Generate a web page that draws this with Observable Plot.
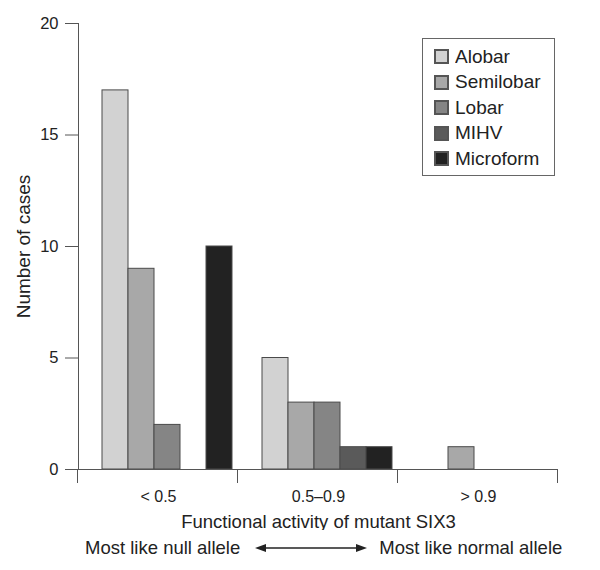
<!DOCTYPE html>
<html>
<head>
<meta charset="utf-8">
<script src="https://cdn.jsdelivr.net/npm/d3@7"></script>
<script src="https://cdn.jsdelivr.net/npm/@observablehq/plot@0.6"></script>
<style>
  body { margin: 0; background: #fff; font-family: "Liberation Sans", Arial, sans-serif; }
  #wrap { position: relative; width: 600px; height: 570px; }
  #legend { position: absolute; left: 422px; top: 38px; width: 133px; height: 138px;
            border: 1px solid #666; background: #fff; box-sizing: border-box; padding: 5px 0 0 12px; }
  #legend div { font-size: 19px !important; color: #222; font-family: "Liberation Sans", Arial, sans-serif !important; }
  #legend [class$="-swatch"] { height: 25.5px !important; padding: 0 !important; margin: 0 !important;
                               box-sizing: border-box; display: flex; align-items: center; }
  #legend svg { margin-right: 7px !important; }
  #legend svg rect { stroke: #555; stroke-width: 2px; }
  #caption { position: absolute; left: 0; top: 537px; width: 600px; font-size: 18.5px; color: #222;
             display: flex; align-items: center; }
</style>
</head>
<body>
<div id="wrap">
  <div id="chart"></div>
  <div id="legend"></div>
  <div id="caption"></div>
</div>
<script>
// ---- data ----
const groups = ["< 0.5", "0.5–0.9", "> 0.9"];
const series = ["Alobar", "Semilobar", "Lobar", "MIHV", "Microform"];
const seriesColors = ["#d2d2d2", "#a8a8a8", "#858585", "#5a5a5a", "#222222"];
const valuesBelow05 = [17, 9, 2, 0, 10];
const values05to09 = [5, 3, 3, 1, 1];
const valuesAbove09 = [0, 1, 0, 0, 0];
const yTicks = [0, 5, 10, 15, 20];
const yLabel = "Number of cases";
const xLabel = "Functional activity of mutant SIX3";
const leftNote = "Most like null allele";
const rightNote = "Most like normal allele";

const groupValues = [valuesBelow05, values05to09, valuesAbove09];
const table = [];
groups.forEach((g, gi) => series.forEach((s, si) => table.push({group: g, series: s, value: groupValues[gi][si]})));

const font = '"Liberation Sans", Arial, sans-serif';

const plot = Plot.plot({
  width: 600,
  height: 530,
  marginTop: 23,
  marginLeft: 77,
  marginRight: 41,
  marginBottom: 61,
  style: {fontFamily: font, fontSize: "16px", color: "#222", background: "#fff"},
  fx: {domain: groups, padding: 0},
  x: {domain: series, paddingInner: 0, paddingOuter: 0.48, align: 0.8, axis: null},
  y: {domain: [0, 20], axis: null},
  color: {domain: series, range: seriesColors},
  marks: [
    Plot.frame({anchor: "left", stroke: "#555", facetAnchor: "left"}),
    Plot.barY(table.filter(d => d.value > 0), {
      fx: "group", x: "series", y: "value", fill: "series",
      stroke: "#4a4a4a", strokeWidth: 1, inset: 0
    }),
    Plot.ruleY([0], {stroke: "#555"}),
    Plot.axisY({ticks: yTicks, tickSize: 13, tickPadding: 7, fontSize: 16.5, stroke: "#555", label: null}),
    Plot.axisY({ticks: [], label: yLabel, labelArrow: "none", labelAnchor: "center", labelOffset: 62, fontSize: 19}),
    Plot.axisFx({anchor: "bottom", tickSize: 0, tickPadding: 21, fontSize: 16, label: null}),
    Plot.axisFx({anchor: "bottom", ticks: [], label: xLabel, labelArrow: "none", labelAnchor: "center", labelOffset: 58, fontSize: 18.5})
  ]
});
document.getElementById("chart").appendChild(plot);

// group separator ticks below the baseline, from the fx scale
const fx = plot.scale("fx");
const svg = d3.select(plot);
const y0 = plot.scale("y").apply(0);
d3.range(groups.length + 1).forEach(i => {
  const xpos = fx.range[0] + i * fx.step;
  svg.append("line").attr("x1", xpos).attr("x2", xpos).attr("y1", y0).attr("y2", y0 + 14)
    .attr("stroke", "#555").attr("shape-rendering", "crispEdges");
});

// legend
const leg = Plot.legend({
  color: {domain: series, range: seriesColors},
  legend: "swatches",
  columns: 1,
  swatchSize: 13,
  fontSize: 19
});
document.getElementById("legend").appendChild(leg);

// caption
const cap = document.getElementById("caption");
cap.innerHTML = `<span style="margin-left:85px">${leftNote}</span>
<svg width="112" height="12" style="margin:0 12px 0 15px" viewBox="0 0 112 12">
  <line x1="6" y1="6" x2="106" y2="6" stroke="#222" stroke-width="1.3"/>
  <path d="M0,6 L11,2 L11,10 Z" fill="#222"/>
  <path d="M112,6 L101,2 L101,10 Z" fill="#222"/>
</svg><span>${rightNote}</span>`;
</script>
</body>
</html>
